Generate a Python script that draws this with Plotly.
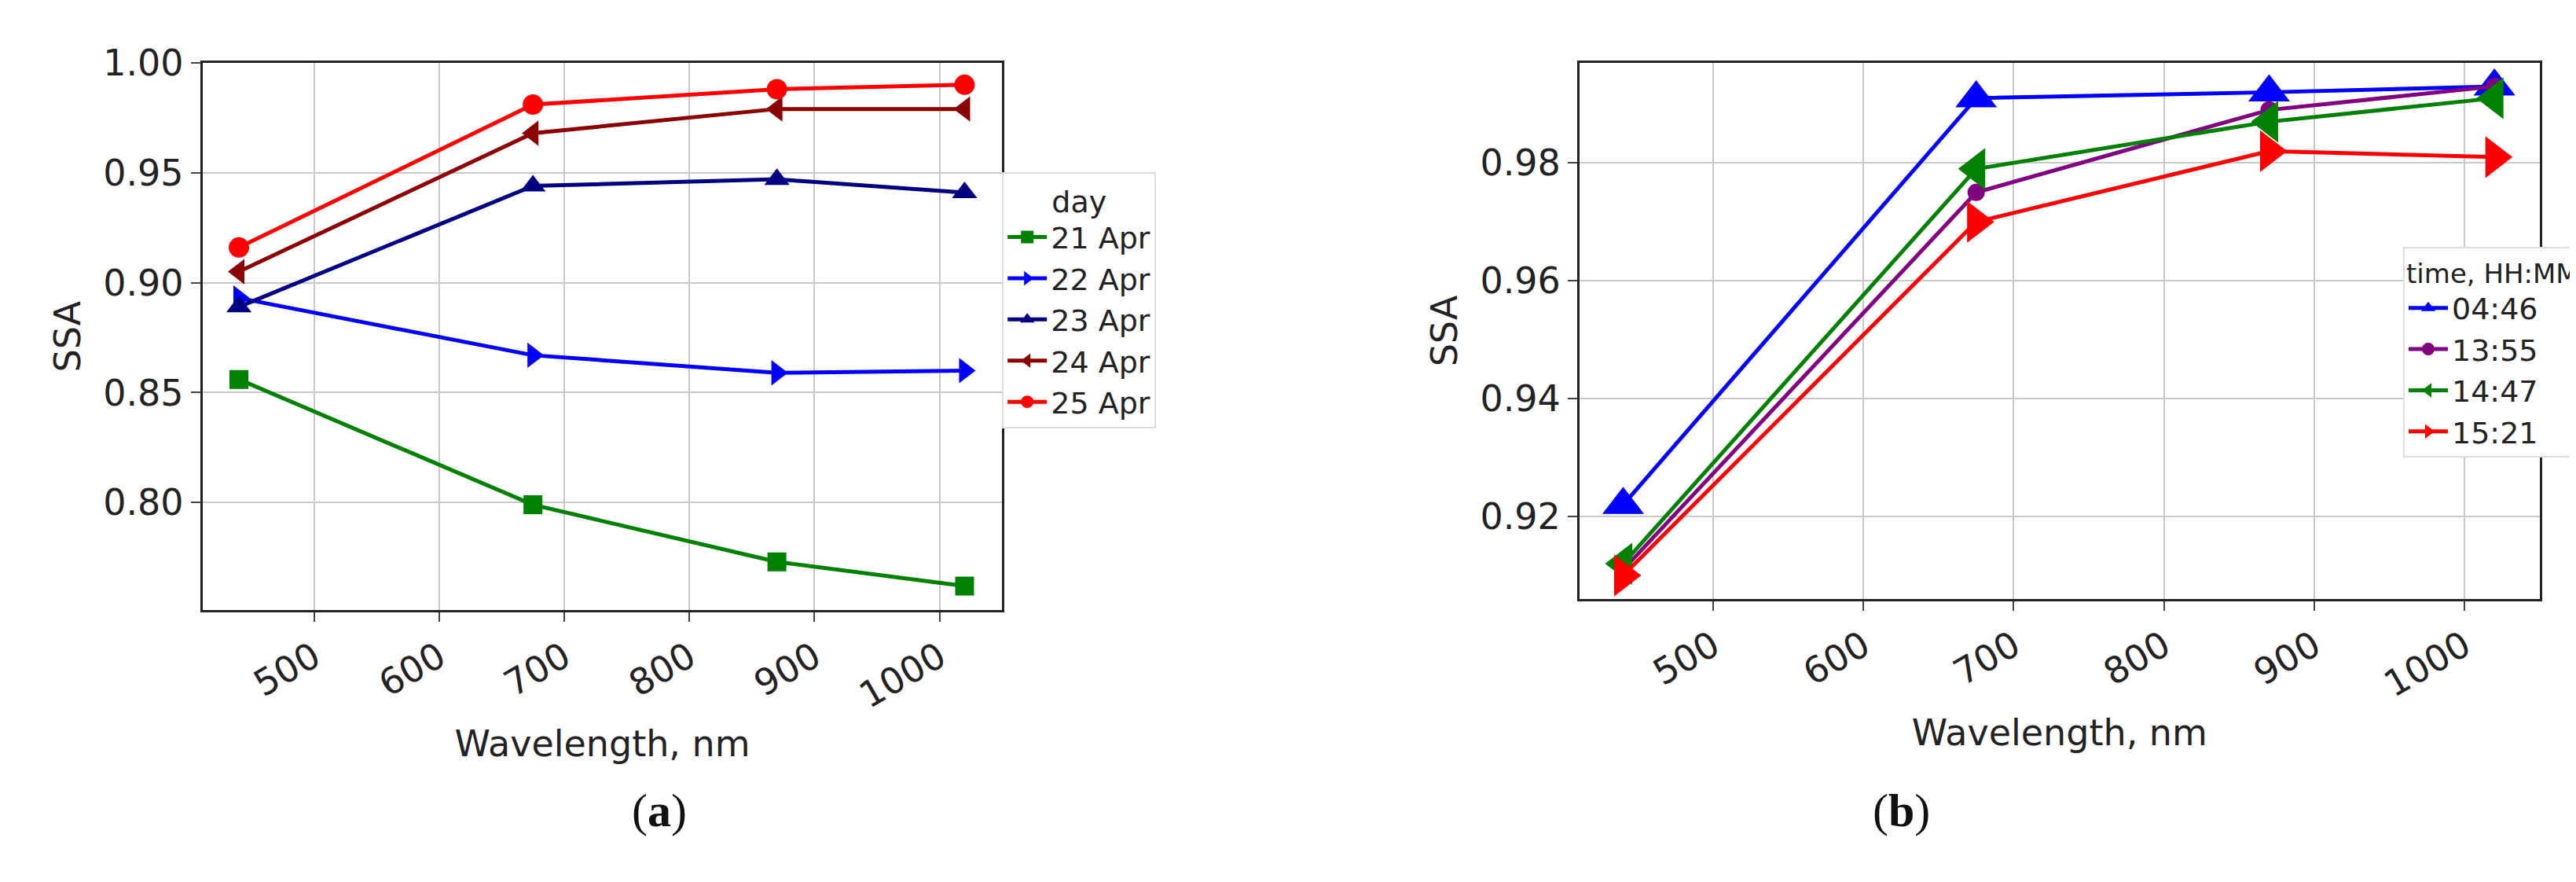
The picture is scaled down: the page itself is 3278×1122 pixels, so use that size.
import plotly.graph_objects as go
from plotly.subplots import make_subplots

wavelength = [440, 675, 870, 1020]

days = ["21 Apr", "22 Apr", "23 Apr", "24 Apr", "25 Apr"]
ssa_21 = [0.856, 0.799, 0.773, 0.762]
ssa_22 = [0.893, 0.867, 0.859, 0.860]
ssa_23 = [0.889, 0.944, 0.947, 0.941]
ssa_24 = [0.905, 0.968, 0.979, 0.979]
ssa_25 = [0.916, 0.981, 0.988, 0.990]

times = ["04:46", "13:55", "14:47", "15:21"]
ssa_0446 = [0.922, 0.991, 0.992, 0.993]
ssa_1355 = [0.911, 0.975, 0.989, 0.993]
ssa_1447 = [0.912, 0.979, 0.987, 0.991]
ssa_1521 = [0.910, 0.970, 0.982, 0.981]

FONT = "DejaVu Sans"
fig = make_subplots(rows=1, cols=2)

left = [
    (ssa_21, "green", "square", 24),
    (ssa_22, "blue", "triangle-right", 28),
    (ssa_23, "navy", "triangle-up", 28),
    (ssa_24, "darkred", "triangle-left", 28),
    (ssa_25, "red", "circle", 26),
]
for name, (y, c, sym, sz) in zip(days, left):
    fig.add_trace(go.Scatter(x=wavelength, y=y, name=name, mode="lines+markers",
                             line=dict(color=c, width=5),
                             marker=dict(symbol=sym, size=sz, color=c),
                             legend="legend"), row=1, col=1)

right = [
    (ssa_0446, "blue", "triangle-up", 46),
    (ssa_1355, "purple", "circle", 22),
    (ssa_1447, "green", "triangle-left", 46),
    (ssa_1521, "red", "triangle-right", 46),
]
for name, (y, c, sym, sz) in zip(times, right):
    fig.add_trace(go.Scatter(x=wavelength, y=y, name=name, mode="lines+markers",
                             line=dict(color=c, width=5),
                             marker=dict(symbol=sym, size=sz, color=c),
                             legend="legend2"), row=1, col=2)

ax = dict(showline=True, linecolor="#222", linewidth=3, mirror=True,
          showgrid=True, gridcolor="#c8c8c8", gridwidth=2, ticks="outside",
          ticklen=12, tickwidth=2, tickfont=dict(size=46, color="#222"),
          title_font=dict(size=46, color="#222"), zeroline=False)

fig.update_xaxes(**ax, range=[411, 1050], tickvals=[500, 600, 700, 800, 900, 1000],
                 tickangle=-30, title_text="Wavelength, nm", title_standoff=20)
fig.update_xaxes(domain=[0.0765, 0.388], row=1, col=1)
fig.update_xaxes(domain=[0.613, 0.987], row=1, col=2)
fig.update_yaxes(**ax, title_text="SSA", title_standoff=15)
fig.update_yaxes(domain=[0.323, 0.959], range=[0.751, 1.0], dtick=0.05,
                 tickformat=".2f", row=1, col=1)
fig.update_yaxes(domain=[0.336, 0.959], range=[0.906, 0.997], dtick=0.02,
                 tickformat=".2f", row=1, col=2)

leg = dict(bgcolor="white", bordercolor="#ddd", borderwidth=2,
           font=dict(size=38, color="#222"), xanchor="left", yanchor="top",
           itemwidth=50)
fig.update_layout(
    width=3278, height=1122, plot_bgcolor="white", paper_bgcolor="white",
    font=dict(family=FONT), margin=dict(l=0, r=0, t=0, b=0),
    legend=dict(**leg, x=0.388, y=0.832,
                title=dict(text="day", side="top center", font=dict(size=38))),
    legend2=dict(**leg, x=0.934, y=0.745,
                 title=dict(text="time, HH:MM", font=dict(size=34))),
)
for txt, x in [("(<b>a</b>)", 0.243), ("(<b>b</b>)", 0.75)]:
    fig.add_annotation(text=txt, x=x, y=0.058, xref="paper", yref="paper",
                       showarrow=False, font=dict(family="Liberation Serif", size=60, color="#111"))

fig.write_html("out.html")
